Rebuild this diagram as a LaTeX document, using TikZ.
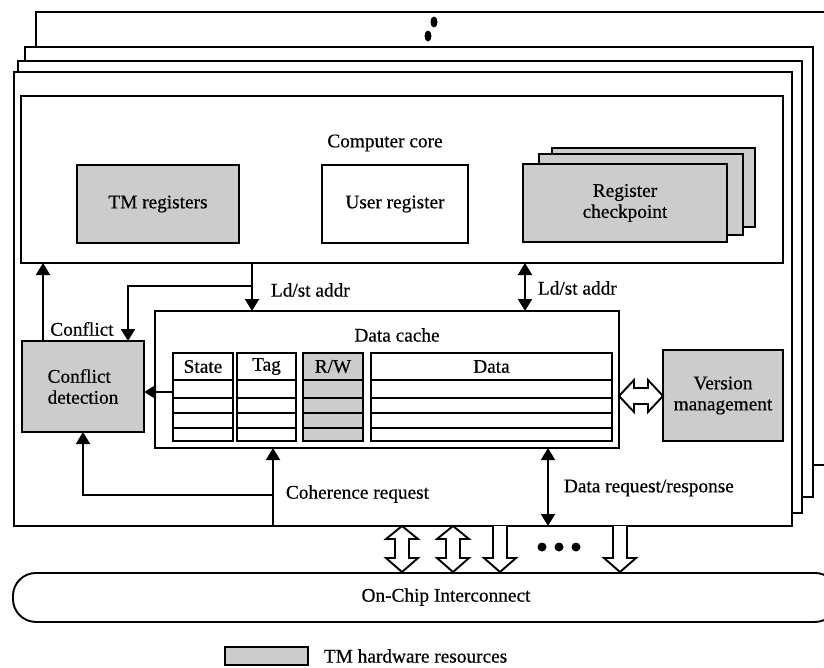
\documentclass[tikz,border=0pt]{standalone}
\usepackage{fontspec}
\setmainfont{Liberation Serif}[FakeBold=0.5]
\usetikzlibrary{arrows.meta,calc}
\definecolor{tmgray}{RGB}{204,204,204}
\newcommand\cachecol[5]{%
  \node[box, fill=#4, minimum width=#3-#2, minimum height=88] (#1) at (#2,353) {};
  \node (#1h) at ({(#2+#3)/2},366.5) {#5};
  \draw (#1.west |- 0,380) -- (#1.east |- 0,380);
  \draw (#1.west |- 0,398) -- (#1.east |- 0,398);
  \draw (#1.west |- 0,413) -- (#1.east |- 0,413);
  \draw (#1.west |- 0,428) -- (#1.east |- 0,428);
}
\begin{document}
\begin{tikzpicture}[x=1pt,y=-1pt, line width=1.9pt,
  every node/.style={font=\fontsize{19.3}{21}\selectfont},
  box/.style={draw, fill=white, line width=1.9pt, anchor=north west, inner sep=0pt, outer sep=0pt},
  gbox/.style={box, fill=tmgray},
  arr/.style={-{Triangle[width=14pt,length=12pt]}},
  darr/.style={{Triangle[width=14pt,length=12pt]}-{Triangle[width=14pt,length=12pt]}},
  hol/.style={draw, fill=white, line width=1.9pt, line join=miter},
  lbl/.style={anchor=west, inner sep=0pt}]
\useasboundingbox (0,0) rectangle (824,667);

% stacked frames
\node[box, minimum width=809, minimum height=453] (F4) at (36,12) {};
\node[box, minimum width=788, minimum height=450] (F3) at (25,47) {};
\node[box, minimum width=784, minimum height=452] (F2) at (18,61) {};
\node[box, minimum width=778, minimum height=454] (F1) at (14,72) {};
\fill (434,22) ellipse [x radius=3.5, y radius=5.5];
\fill (428,36) ellipse [x radius=3.5, y radius=5.5];

% computer core
\node[box, minimum width=762, minimum height=167] (core) at (21,96) {};
\node (corel) at (385,143) {Computer core};
\node[gbox, minimum width=162, minimum height=78] (tmr) at (77,165) {};
\node (tmrl) at (tmr.center) {TM registers};
\node[box, minimum width=146, minimum height=78] (ur) at (322,165) {};
\node (url) at (ur.center) {User register};
\node[gbox, minimum width=203, minimum height=79] (rc3) at (552,148) {};
\node[gbox, minimum width=204, minimum height=81] (rc2) at (539,154) {};
\node[gbox, minimum width=204, minimum height=78, align=center] (rc1) at (523,164) {Register\\checkpoint};

% data cache
\node[box, minimum width=464, minimum height=137] (dc) at (155,311) {};
\node (dcl) at (397,335) {Data cache};
\cachecol{state}{173}{233}{white}{State}
\cachecol{tag}{237}{296}{white}{Tag}
\cachecol{rw}{303}{363}{tmgray}{R/W}
\cachecol{data}{371}{612}{white}{Data}

% side boxes
\node[gbox, minimum width=122, minimum height=91, align=left] (cd) at (22,341) {Conflict\\detection};
\node[gbox, minimum width=120, minimum height=91, align=center] (vm) at (663,350) {Version\\management};

% interconnect
\node[draw, line width=1.9pt, rounded corners=23pt, minimum width=825, minimum height=49, anchor=north west, inner sep=0pt] (ic) at (12,572) {};
\node (icl) at (446,597) {On-Chip Interconnect};

% legend
\node[gbox, minimum width=83, minimum height=18] (leg) at (225,647) {};
\node[lbl] (legl) at (323,656) {TM hardware resources};

% x / y helper coordinates
\coordinate (xconf) at (43,0);
\coordinate (xld) at (252,0);
\coordinate (ybr) at (0,286);
\coordinate (xcdt) at (128,0);
\coordinate (xld2) at (525,0);
\coordinate (yst) at (0,392);
\coordinate (xcoh) at (273,0);
\coordinate (ycoh) at (0,495);
\coordinate (xcdb) at (83,0);
\coordinate (xdr) at (548,0);

% connectors
\draw[arr] (xconf |- cd.north) -- (xconf |- core.south);
\node (confl) at (82,329) {Conflict};
\draw[arr] (xld |- core.south) -- (xld |- dc.north);
\draw[arr] (xld |- ybr) -| (xcdt |- cd.north);
\node[lbl] (ld1) at (270,290) {Ld/st addr};
\draw[darr] (xld2 |- core.south) -- (xld2 |- dc.north);
\node[lbl] (ld2) at (537,288) {Ld/st addr};
\draw[arr] (state.west |- yst) -- (cd.east |- yst);
\draw[arr] (xcoh |- F1.south) -- (xcoh |- dc.south);
\draw[arr] (xcoh |- ycoh) -| (xcdb |- cd.south);
\node[lbl] (cohl) at (285,494) {Coherence request};
\draw[darr] (xdr |- dc.south) -- (xdr |- F1.south);
\node[lbl] (drl) at (563,488) {Data request/response};

% hollow double arrow data cache <-> version management
\coordinate (hv) at (dc.east |- 0,396);
\draw[hol] (hv) -- ++(15,-16) -- ++(0,8) -- ++(14,0) -- ++(0,-8) -- ++(15,16)
  -- ++(-15,16) -- ++(0,-8) -- ++(-14,0) -- ++(0,8) -- cycle;

% hollow arrows to interconnect
\foreach \c in {402,453}{
  \draw[hol] (\c,526) -- ++(-16,13) -- ++(9,0) -- ++(0,19) -- ++(-9,0) -- ++(16,14)
    -- ++(16,-14) -- ++(-9,0) -- ++(0,-19) -- ++(9,0) -- cycle;
}
\foreach \c in {500,620}{
  \draw[hol] (\c-7,526) -- ++(0,32) -- ++(-9,0) -- ++(16,14) -- ++(16,-14) -- ++(-9,0) -- ++(0,-32);
}
\foreach \c in {542,559,576}{ \fill (\c,547) circle [radius=4.5]; }
\end{tikzpicture}
\end{document}
